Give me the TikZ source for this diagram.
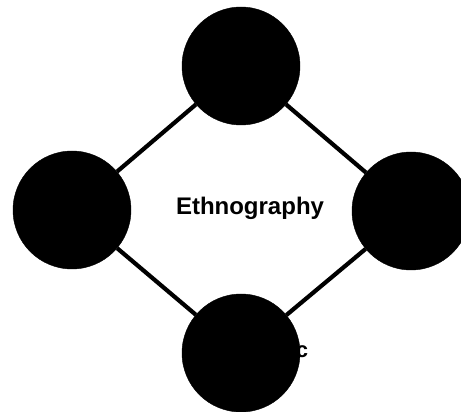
\documentclass[tikz,border=0pt]{standalone}
\usepackage{fontspec}
\setmainfont{Liberation Sans}
\usetikzlibrary{positioning}
\tikzset{
  stage/.style={
    circle, draw=black, fill=black, minimum size=118pt, inner sep=0pt
  },
  link/.style={draw=black, line width=4.2pt},
  title/.style={font=\fontsize{24}{28}\selectfont\bfseries, text=black}
}

\begin{document}
\begin{tikzpicture}[x=1pt, y=1pt]

  % ---- Frame ------------------------------------------------------------
  \useasboundingbox (0,0) rectangle (461,412);
  \clip (0,0) rectangle (461,412);

  % ---- Label partly hidden behind the lower circle -----------------------
  \node[font=\fontsize{22}{26}\selectfont\bfseries] (bottomtext) at (302,60) {c};

  % ---- Circles ------------------------------------------------------------
  \node[stage] (top) at (241,346) {};
  \node[stage] (left) at (72,202) {};
  \node[stage] (right) at (411,201) {};
  \node[stage] (bottom) at (241,59) {};

  % ---- Links between the four circles -------------------------------------
  \draw[link] (top) -- (left);
  \draw[link] (top) -- (right);
  \draw[link] (left) -- (bottom);
  \draw[link] (right) -- (bottom);

  % ---- Centre title -------------------------------------------------------
  \node[title] (centre) at (250,204) {Ethnography};

\end{tikzpicture}
\end{document}
